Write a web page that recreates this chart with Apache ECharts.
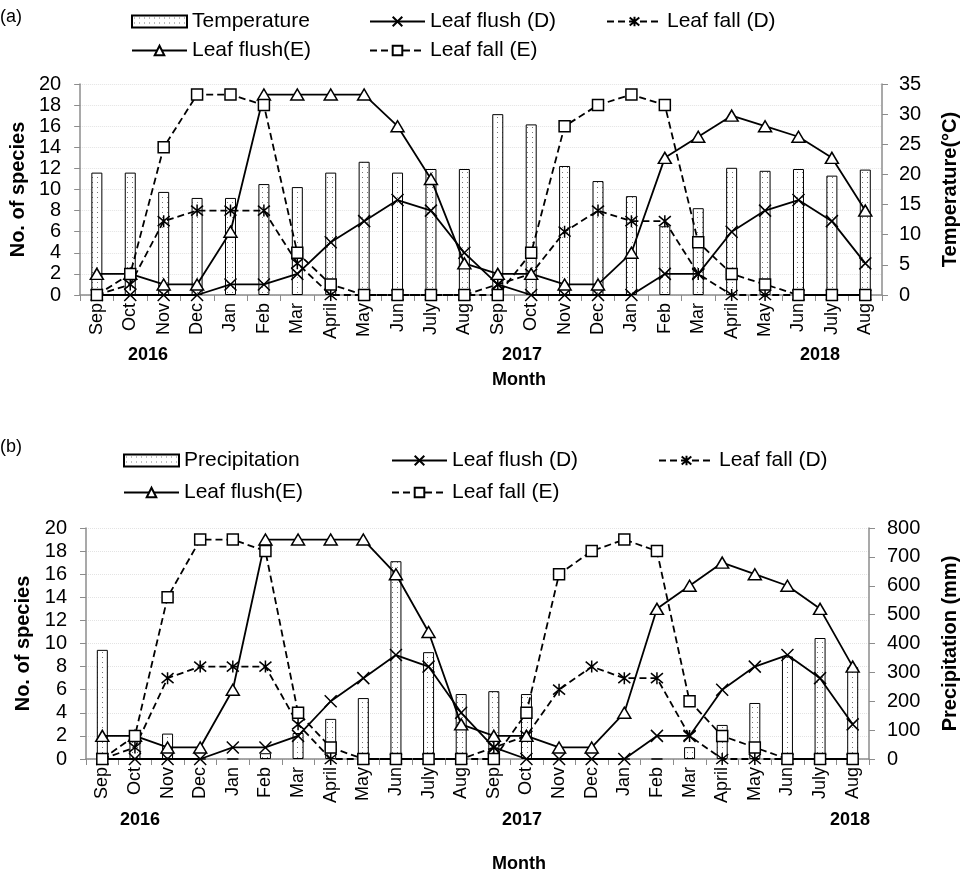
<!DOCTYPE html>
<html>
<head>
<meta charset="utf-8">
<title>Leaf flush and leaf fall</title>
<script src="https://cdn.jsdelivr.net/npm/echarts@6/dist/echarts.min.js"></script>
<style>
  html, body { margin: 0; padding: 0; background: #fff; }
  #chart { width: 968px; height: 883px; }
</style>
</head>
<body>
<div id="chart"></div>
<script>
// Sep 2016 .. Aug 2018
const months = ['Sep', 'Oct', 'Nov', 'Dec', 'Jan', 'Feb', 'Mar', 'April', 'May', 'Jun', 'July', 'Aug',
  'Sep', 'Oct', 'Nov', 'Dec', 'Jan', 'Feb', 'Mar', 'April', 'May', 'Jun', 'July', 'Aug']
const years = ['2016', '2017', '2018']

// climate (right axes)
const temperature = [20.3, 20.3, 17.1, 16.1, 16.1, 18.4, 17.9, 20.3, 22.1, 20.3, 20.9, 20.9,
  30.0, 28.3, 21.4, 18.9, 16.4, 11.4, 14.4, 21.1, 20.6, 20.9, 19.8, 20.8]
const precipitation = [378, 90, 88, 0, 0, 20, 90, 139, 211, 685, 370, 225,
  235, 225, 0, 0, 0, 0, 41, 118, 194, 355, 419, 318]

// no. of species (left axes)
const leafFlushD = [0, 0, 0, 0, 1, 1, 2, 5, 7, 9, 8, 4, 1, 0, 0, 0, 0, 2, 2, 6, 8, 9, 7, 3]
const leafFallD = [0, 1, 7, 8, 8, 8, 3, 0, 0, 0, 0, 0, 1, 2, 6, 8, 7, 7, 2, 0, 0, 0, 0, 0]
const leafFlushE = [2, 2, 1, 1, 6, 19, 19, 19, 19, 16, 11, 3, 2, 2, 1, 1, 4, 13, 15, 17, 16, 15, 13, 8]
const leafFallE = [0, 2, 14, 19, 19, 18, 4, 1, 0, 0, 0, 0, 0, 4, 16, 18, 19, 18, 5, 2, 1, 0, 0, 0]

const FONT = 'Liberation Sans'
const crossPath = 'path://M0,0L10,10M10,0L0,10'
const starPath = 'path://M0,0L10,10M10,0L0,10M5,-1L5,11'

// dotted fill for the bars
function dotPattern() {
  const c = document.createElement('canvas')
  c.width = 5
  c.height = 5
  const ctx = c.getContext('2d')
  ctx.fillStyle = '#fff'
  ctx.fillRect(0, 0, 5, 5)
  ctx.fillStyle = '#777'
  ctx.fillRect(2, 2, 1, 1)
  return { image: c, repeat: 'repeat' }
}
const pattern = dotPattern()

function lineSeries(name, data, symbol, size, dashed, idx) {
  return {
    name: name,
    type: 'line',
    xAxisIndex: idx,
    yAxisIndex: idx * 2,
    data: data,
    symbol: symbol,
    symbolSize: size,
    showAllSymbol: true,
    itemStyle: { color: '#fff', borderColor: '#000', borderWidth: 1.5 },
    lineStyle: { color: '#000', width: 1.8, type: dashed ? [7, 4] : 'solid' },
    emphasis: { disabled: true },
    z: 3
  }
}

function barSeries(name, data, idx) {
  return {
    name: name,
    type: 'bar',
    xAxisIndex: idx,
    yAxisIndex: idx * 2 + 1,
    data: data,
    barWidth: 11,
    itemStyle: { color: pattern, borderColor: '#000', borderWidth: 1 },
    emphasis: { disabled: true },
    z: 2
  }
}

function panelSeries(barName, barData, idx) {
  return [
    barSeries(barName, barData, idx),
    lineSeries('Leaf flush (D)', leafFlushD, crossPath, 12, false, idx),
    lineSeries('Leaf fall (D)', leafFallD, starPath, 12, true, idx),
    lineSeries('Leaf flush(E)', leafFlushE, 'triangle', [13, 11], false, idx),
    lineSeries('Leaf fall (E)', leafFallE, 'rect', 11, true, idx)
  ]
}

function legendItem(name, left, top, icon) {
  const item = { name: name }
  if (icon) item.icon = icon
  return {
    data: [item],
    left: left,
    top: top,
    itemWidth: 55,
    itemHeight: 12,
    selectedMode: false,
    textStyle: { fontFamily: FONT, fontSize: 21, color: '#000' }
  }
}

const axisGray = '#8c8c8c'

function xAxis(idx) {
  return {
    type: 'category',
    gridIndex: idx,
    data: months,
    axisLine: { lineStyle: { color: axisGray, width: 1.5 } },
    axisTick: { show: true, alignWithLabel: false, length: 6, lineStyle: { color: axisGray } },
    axisLabel: { interval: 0, rotate: 90, margin: 8, fontFamily: FONT, fontSize: 18, color: '#000' },
    splitLine: { show: false }
  }
}

function yAxis(idx, pos, max, interval, name, gap, margin) {
  return {
    type: 'value',
    gridIndex: idx,
    position: pos,
    min: 0,
    max: max,
    interval: interval,
    name: name,
    nameLocation: 'middle',
    nameRotate: 90,
    nameGap: gap,
    nameTextStyle: { fontFamily: FONT, fontSize: 20, fontWeight: 'bold', color: '#000' },
    axisLine: { show: true, lineStyle: { color: axisGray, width: 1.5 } },
    axisTick: { show: true, length: 6, lineStyle: { color: axisGray } },
    axisLabel: { margin: margin, fontFamily: FONT, fontSize: 20, color: '#000' },
    splitLine: pos === 'left'
      ? { show: true, lineStyle: { color: '#e3e3e3', type: 'dotted' } }
      : { show: false }
  }
}

function text(str, x, y, bold) {
  return {
    type: 'text',
    left: x,
    top: y,
    style: {
      text: str,
      fill: '#000',
      font: (bold ? 'bold ' : '') + '18px "' + FONT + '"'
    }
  }
}

const chart = echarts.init(document.getElementById('chart'))
chart.setOption({
  backgroundColor: '#fff',
  animation: false,
  grid: [
    { left: 79, right: 70, top: 84, height: 211 },
    { left: 86, right: 81, top: 528, height: 231 }
  ],
  legend: [
    legendItem('Temperature', 126, 6, 'rect'),
    legendItem('Leaf flush (D)', 364, 6),
    legendItem('Leaf fall (D)', 601, 6),
    legendItem('Leaf flush(E)', 126, 35),
    legendItem('Leaf fall (E)', 364, 35),
    legendItem('Precipitation', 118, 445, 'rect'),
    legendItem('Leaf flush (D)', 386, 445),
    legendItem('Leaf fall (D)', 653, 445),
    legendItem('Leaf flush(E)', 118, 477),
    legendItem('Leaf fall (E)', 386, 477)
  ],
  xAxis: [xAxis(0), xAxis(1)],
  yAxis: [
    yAxis(0, 'left', 20, 2, 'No. of species', 32, 19),
    yAxis(0, 'right', 35, 5, 'Temperature(°C)', 58, 17),
    yAxis(1, 'left', 20, 2, 'No. of species', 48, 19),
    yAxis(1, 'right', 800, 100, 'Precipitation (mm)', 71, 18)
  ],
  series: panelSeries('Temperature', temperature, 0).concat(panelSeries('Precipitation', precipitation, 1)),
  graphic: [
    text('(a)', 0, 8, false),
    text(years[0], 128, 346, true),
    text(years[1], 502, 346, true),
    text(years[2], 800, 346, true),
    text('Month', 492, 371, true),
    text('(b)', 0, 438, false),
    text(years[0], 120, 811, true),
    text(years[1], 502, 811, true),
    text(years[2], 830, 811, true),
    text('Month', 492, 855, true)
  ]
})
</script>
</body>
</html>
